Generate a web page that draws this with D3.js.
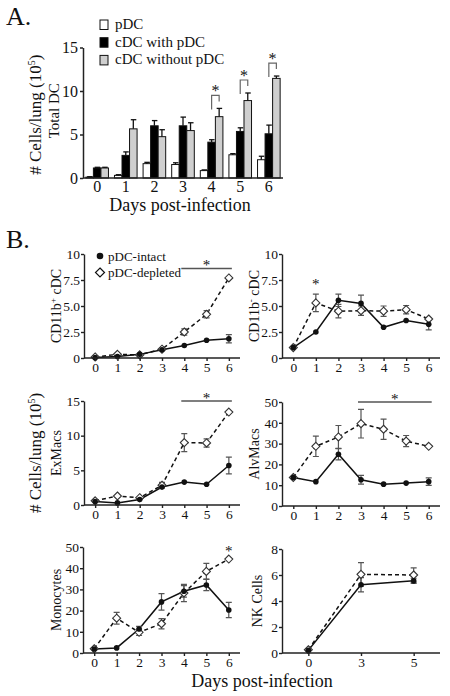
<!DOCTYPE html>
<html><head><meta charset="utf-8">
<script src="https://cdn.jsdelivr.net/npm/d3@7"></script>
<style>
body{margin:0;background:#fff}
svg{display:block}
text{font-family:"Liberation Serif","Times New Roman",serif;fill:#111}
</style>
</head><body><svg id="c" width="450" height="696"></svg>
<script>
// ---------- DATA ----------
const days = [0,1,2,3,4,5,6];
const seriesA = ["pDC","cDC with pDC","cDC without pDC"];
const pdcVals = [0.1,0.3,1.65,1.55,0.85,2.67,2.1];
const pdcErr  = [0.05,0.08,0.15,0.2,0.08,0.13,0.4];
const cdcWithVals = [1.15,2.6,6.0,6.0,4.12,5.35,5.08];
const cdcWithErr  = [0.08,0.4,0.6,1.0,0.28,0.42,1.0];
const cdcWithoutVals = [1.15,5.65,4.75,5.45,7.05,8.9,11.45];
const cdcWithoutErr  = [0.08,1.05,0.8,0.9,0.95,0.87,0.27];
const sigDaysA = [4,5,6];
const yTicksA = [0,5,10,15];

const seriesB = ["pDC-intact","pDC-depleted"];
const cd11bPosIntact = [0.05,0.15,0.35,0.8,1.2,1.7,1.85];
const cd11bPosIntactErr = [0.03,0.05,0.08,0.1,0.1,0.12,0.4];
const cd11bPosDepleted = [0.1,0.35,0.3,0.85,2.5,4.2,7.7];
const cd11bPosDepletedErr = [0.05,0.08,0.08,0.1,0.3,0.35,0.1];
const cd11bNegIntact = [1.0,2.5,5.55,5.25,2.95,3.6,3.25];
const cd11bNegIntactErr = [0.05,0.1,0.6,0.8,0.15,0.2,0.55];
const cd11bNegDepleted = [1.0,5.3,4.5,4.55,4.5,4.65,3.75];
const cd11bNegDepletedErr = [0.05,0.85,0.65,0.45,0.5,0.4,0.1];
const exIntact = [0.5,0.3,0.8,2.6,3.3,3.0,5.7];
const exIntactErr = [0.1,0.1,0.15,0.3,0.2,0.2,1.2];
const exDepleted = [0.6,1.3,1.05,2.85,9.0,8.95,13.4];
const exDepletedErr = [0.1,0.2,0.15,0.4,1.3,0.6,0.2];
const alvIntact = [13.7,11.7,24.9,12.6,10.5,11.0,11.7];
const alvIntactErr = [0.8,0.6,2.7,2.1,0.6,0.6,1.8];
const alvDepleted = [13.7,28.7,33.2,39.6,36.9,31.2,28.7];
const alvDepletedErr = [0.8,4.9,5.5,6.9,4.9,2.7,0.5];
const monoIntact = [1.9,2.4,11.3,24.1,29.1,32.1,20.3];
const monoIntactErr = [0.5,0.4,1.3,3.9,2.7,2.7,3.6];
const monoDepleted = [2.0,16.4,9.75,13.8,28.3,38.5,44.3];
const monoDepletedErr = [0.5,2.8,1.5,2.4,4.1,3.8,0.5];
const nkDays = [0,3,5];
const nkIntact = [0.2,5.25,5.55];
const nkIntactErr = [0.05,0.55,0.2];
const nkDepleted = [0.25,6.05,6.0];
const nkDepletedErr = [0.05,0.9,0.55];

const ticksCdc = [0,2.5,5,7.5,10];
const tickLabelsCdc = ["0","2.5","5.0","7.5","10"];
const ticksEx = [0,5,10,15];
const ticksAlv = [0,10,20,30,40,50];
const ticksMono = [0,10,20,30,40,50];
const ticksNk = [0,2,4,6,8];

// ---------- DRAW ----------
const svg = d3.select("#c");
const FONT = '"Liberation Serif","Times New Roman",serif';

// Panel A
const A = {l:83, r:283, t:47.5, b:178};
const xA = d3.scaleBand().domain(days).range([A.l, A.r]).paddingInner(0.21).paddingOuter(0.1);
const xSub = d3.scaleBand().domain(seriesA).range([0, xA.bandwidth()]);
const yA = d3.scaleLinear().domain([0,15]).range([A.b, A.t]);
const colorsA = {"pDC":"#ffffff","cDC with pDC":"#000000","cDC without pDC":"#cfcfcf"};
const valsA = {"pDC":[pdcVals,pdcErr],"cDC with pDC":[cdcWithVals,cdcWithErr],"cDC without pDC":[cdcWithoutVals,cdcWithoutErr]};

svg.append("text").attr("x",6).attr("y",25).style("font-size","26px").text("A.");
svg.append("text").attr("x",6).attr("y",248).style("font-size","26px").text("B.");

const gA = svg.append("g");
seriesA.forEach(s => {
  const [v,e] = valsA[s];
  days.forEach((d,i) => {
    const x0 = xA(d) + xSub(s);
    const w = xSub.bandwidth();
    gA.append("rect").attr("x",x0).attr("y",yA(v[i])).attr("width",w).attr("height",yA(0)-yA(v[i]))
      .attr("fill",colorsA[s]).attr("stroke","#111").attr("stroke-width",1);
    const cx = x0 + w/2;
    gA.append("line").attr("x1",cx).attr("x2",cx).attr("y1",yA(v[i])).attr("y2",yA(v[i]+e[i])).attr("stroke","#111").attr("stroke-width",1.3);
    gA.append("line").attr("x1",cx-2.5).attr("x2",cx+3).attr("y1",yA(v[i]+e[i])).attr("y2",yA(v[i]+e[i])).attr("stroke","#111").attr("stroke-width",1.3);
  });
});
// significance brackets
sigDaysA.forEach(d => {
  const i = days.indexOf(d);
  const xl = xA(d) + xSub("cDC with pDC") + xSub.bandwidth()/2;
  const xr = xA(d) + xSub("cDC without pDC") + xSub.bandwidth()/2;
  const top = yA(cdcWithoutVals[i] + cdcWithoutErr[i]) - 13;
  gA.append("path").attr("d",`M${xl},${top+14}V${top}H${xr}V${top+6}`).attr("fill","none").attr("stroke","#666").attr("stroke-width",1.2);
  gA.append("text").attr("x",(xl+xr)/2).attr("y",top+1).attr("text-anchor","middle").style("font-size","16px").text("*");
});
// axes A
const yAxA = gA.append("g").attr("transform",`translate(${A.l},0)`).call(d3.axisLeft(yA).tickValues(yTicksA).tickSize(3).tickSizeOuter(0).tickPadding(2));
const xAxA = gA.append("g").attr("transform",`translate(0,${A.b})`).call(d3.axisBottom(xA).tickSize(0).tickPadding(3));
xAxA.select(".domain").attr("d",`M${A.l},0H${A.r}`);
[yAxA,xAxA].forEach(g=>{g.selectAll("text").style("font-family",FONT).style("font-size","16px").attr("fill","#111");
  g.selectAll("path,line").attr("stroke","#222").attr("stroke-width",1.5);});
// labels A
svg.append("text").attr("x",180).attr("y",211).attr("text-anchor","middle").style("font-size","18px").text("Days post-infection");
const ylA = svg.append("text").attr("transform",`translate(41,${(A.t+A.b)/2+2}) rotate(-90)`).attr("text-anchor","middle").style("font-size","17px");
ylA.append("tspan").text("# Cells/lung (10");
ylA.append("tspan").attr("dy",-6).style("font-size","10px").text("5");
ylA.append("tspan").attr("dy",6).text(")");
svg.append("text").attr("transform",`translate(59,${(A.t+A.b)/2-2}) rotate(-90)`).attr("text-anchor","middle").style("font-size","15px").text("Total DC");
// legend A
seriesA.forEach((s,k)=>{
  const y = 20 + k*17.7;
  svg.append("rect").attr("x",100).attr("y",y).attr("width",8).attr("height",9.5).attr("fill",colorsA[s]).attr("stroke","#111").attr("stroke-width",1);
  svg.append("text").attr("x",115).attr("y",y+9).style("font-size","15px").text(s);
});

// Panel B
function panel(cfg){
  const g = svg.append("g");
  let x, xPos;
  if(cfg.point){
    x = d3.scalePoint().domain(cfg.days).range([cfg.l,cfg.r]).padding(0.5);
    xPos = d => x(d);
  } else {
    x = d3.scaleLinear().domain([-0.5,6.5]).range([cfg.l,cfg.r]);
    xPos = d => x(d);
  }
  const y = d3.scaleLinear().domain([0,cfg.max]).range([cfg.b,cfg.t]);
  const series = [
    {v:cfg.dep, e:cfg.depErr, dash:"4,3", type:"diamond"},
    {v:cfg.int, e:cfg.intErr, dash:null, type:"circle"}
  ];
  series.forEach(s=>{
    g.append("path").datum(cfg.days.map((d,i)=>[xPos(d),y(s.v[i])]))
      .attr("d",d3.line()).attr("fill","none").attr("stroke","#111").attr("stroke-width",1.5)
      .attr("stroke-dasharray",s.dash);
  });
  series.forEach(s=>{
    cfg.days.forEach((d,i)=>{
      const cx = xPos(d), y1 = y(s.v[i]+s.e[i]), y2 = y(Math.max(0,s.v[i]-s.e[i]));
      if (y2 - y1 > 5) {
        g.append("path").attr("d",`M${cx},${y1}V${y2}M${cx-3},${y1}H${cx+3}M${cx-3},${y2}H${cx+3}`)
          .attr("fill","none").attr("stroke","#555").attr("stroke-width",1.2);
      }
    });
  });
  series.forEach(s=>{
    cfg.days.forEach((d,i)=>{
      const cx = xPos(d), cy = y(s.v[i]);
      if(s.type==="circle"){
        g.append("circle").attr("cx",cx).attr("cy",cy).attr("r",2.8).attr("fill","#111");
      } else {
        g.append("path").attr("d",`M${cx},${cy-4}L${cx+4},${cy}L${cx},${cy+4}L${cx-4},${cy}Z`)
          .attr("fill","#fff").attr("stroke","#333").attr("stroke-width",1.1);
      }
    });
  });
  const ya = g.append("g").attr("transform",`translate(${cfg.l},0)`)
    .call(d3.axisLeft(y).tickValues(cfg.ticks).tickSize(3).tickSizeOuter(0).tickPadding(1)
      .tickFormat((d,i)=>cfg.tickLabels?cfg.tickLabels[i]:d3.format("d")(d)));
  const xa = g.append("g").attr("transform",`translate(0,${cfg.b})`)
    .call(cfg.point? d3.axisBottom(x).tickSize(3).tickSizeOuter(0).tickPadding(1)
                   : d3.axisBottom(x).tickValues(cfg.days).tickFormat(d3.format("d")).tickSize(3).tickSizeOuter(0).tickPadding(1));
  xa.select(".domain").attr("d",`M${cfg.l},0H${cfg.r}`);
  [ya,xa].forEach(a=>{a.selectAll("text").style("font-family",FONT).style("font-size","13.5px").attr("fill","#111");
    a.selectAll("path,line").attr("stroke","#222").attr("stroke-width",1.4);});
  // y label
  const lab = svg.append("text").attr("transform",`translate(${cfg.labX},${(cfg.t+cfg.b)/2}) rotate(-90)`)
    .attr("text-anchor","middle").style("font-size","14px");
  cfg.label.forEach(p=>{
    const t = lab.append("tspan").text(p.t);
    if(p.sup){t.attr("dy",-5).style("font-size","9px");}
    if(p.after){t.attr("dy",5);}
  });
  // significance
  if(cfg.sigLine){
    const [d0,d1,v] = cfg.sigLine;
    const yy = y(v);
    g.append("line").attr("x1",xPos(d0)-3).attr("x2",xPos(d1)+3).attr("y1",yy).attr("y2",yy).attr("stroke","#555").attr("stroke-width",1.4);
    g.append("text").attr("x",(xPos(d0)+xPos(d1))/2).attr("y",yy+1.5).attr("text-anchor","middle").style("font-size","15px").attr("fill","#333").text("*");
  }
  if(cfg.sigStar){
    const [d,v] = cfg.sigStar;
    g.append("text").attr("x",xPos(d)).attr("y",y(v)+7).attr("text-anchor","middle").style("font-size","15px").attr("fill","#555").text("*");
  }
  return {x,y};
}

panel({l:84,r:240,t:254,b:358,max:10,ticks:ticksCdc,tickLabels:tickLabelsCdc,days:days,
  int:cd11bPosIntact,intErr:cd11bPosIntactErr,dep:cd11bPosDepleted,depErr:cd11bPosDepletedErr,
  labX:61,label:[{t:"CD11b"},{t:"+",sup:true},{t:" cDC",after:true}],sigLine:[4,6,8.6]});
panel({l:282,r:440,t:254,b:358,max:10,ticks:ticksCdc,tickLabels:tickLabelsCdc,days:days,
  int:cd11bNegIntact,intErr:cd11bNegIntactErr,dep:cd11bNegDepleted,depErr:cd11bNegDepletedErr,
  labX:259,label:[{t:"CD11b"},{t:"-",sup:true},{t:" cDC",after:true}],sigStar:[1,7.35]});
panel({l:84,r:240,t:401,b:505,max:15,ticks:ticksEx,days:days,
  int:exIntact,intErr:exIntactErr,dep:exDepleted,depErr:exDepletedErr,
  labX:61,label:[{t:"ExMacs"}],sigLine:[4,6,15]});
panel({l:282,r:440,t:402,b:506,max:50,ticks:ticksAlv,days:days,
  int:alvIntact,intErr:alvIntactErr,dep:alvDepleted,depErr:alvDepletedErr,
  labX:259,label:[{t:"AlvMacs"}],sigLine:[3,6,50]});
panel({l:83,r:240,t:547,b:653,max:50,ticks:ticksMono,days:days,
  int:monoIntact,intErr:monoIntactErr,dep:monoDepleted,depErr:monoDepletedErr,
  labX:61,label:[{t:"Monocytes"}],sigStar:[6,49]});
panel({l:282,r:440,t:549,b:653,max:8,ticks:ticksNk,days:nkDays,point:true,
  int:nkIntact,intErr:nkIntactErr,dep:nkDepleted,depErr:nkDepletedErr,
  labX:262,label:[{t:"NK Cells"}]});

// big y label B
const ylB = svg.append("text").attr("transform",`translate(41,453) rotate(-90)`).attr("text-anchor","middle").style("font-size","17px");
ylB.append("tspan").text("# Cells/lung (10");
ylB.append("tspan").attr("dy",-6).style("font-size","10px").text("5");
ylB.append("tspan").attr("dy",6).text(")");
// legend B
svg.append("circle").attr("cx",100).attr("cy",256).attr("r",3.3).attr("fill","#111");
svg.append("text").attr("x",108).attr("y",260.5).style("font-size","13px").text(seriesB[0]);
svg.append("path").attr("d","M100,268L104.5,272.5L100,277L95.5,272.5Z").attr("fill","#fff").attr("stroke","#111").attr("stroke-width",1.2);
svg.append("text").attr("x",108).attr("y",277).style("font-size","13px").text(seriesB[1]);
// x title B
svg.append("text").attr("x",262).attr("y",687).attr("text-anchor","middle").style("font-size","18px").text("Days post-infection");
</script></body></html>
